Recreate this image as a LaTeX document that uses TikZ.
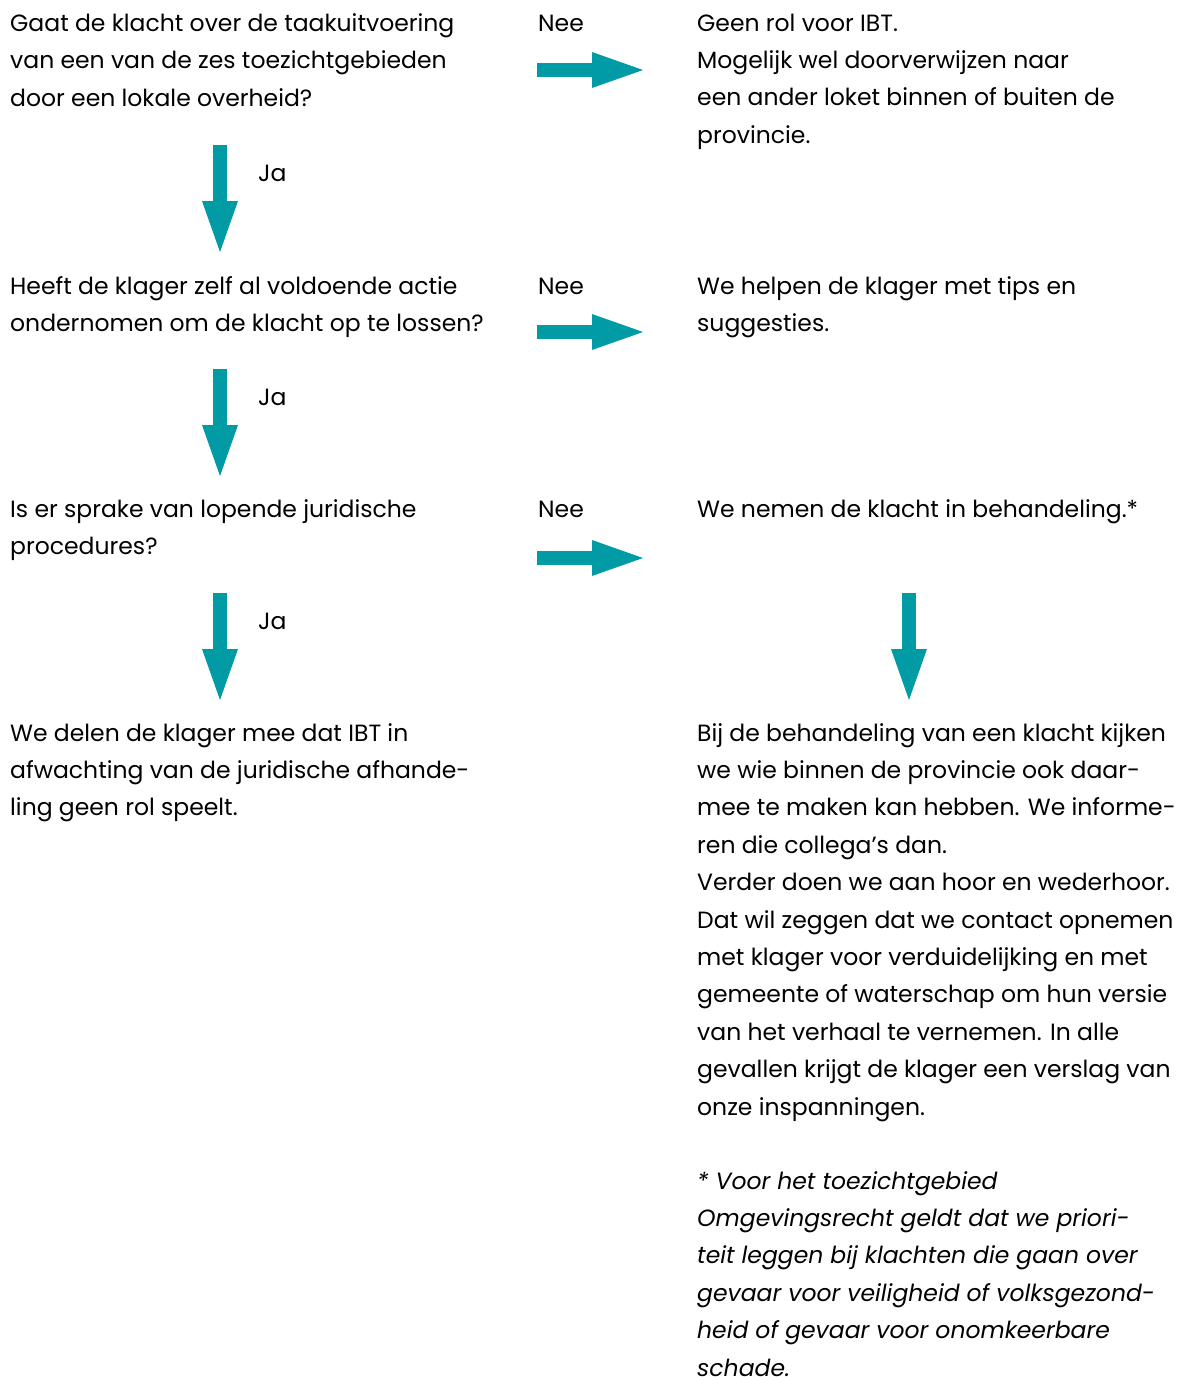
\documentclass[tikz,border=0pt]{standalone}
\usepackage{fontspec}
\setmainfont{Poppins}
\usetikzlibrary{arrows.meta}

\definecolor{ibtblauw}{RGB}{0,155,164}

\begin{document}
\begin{tikzpicture}[x=1pt,y=-1pt,
    tekst/.style={anchor=north west,inner sep=0pt,align=left,
      font=\fontsize{23.5pt}{37.4pt}\selectfont,
      execute at begin node={\rule{0pt}{26pt}}},
    keuze/.style={anchor=base west,inner sep=0pt,
      font=\fontsize{23.5pt}{37.4pt}\selectfont},
    pijl/.style={draw=ibtblauw,line width=14pt,
      -{Triangle[length=51pt,width=36pt,fill=ibtblauw,line width=0pt]}}]
  \useasboundingbox (0,0) rectangle (1179,1377);

  % vragen links
  \node[tekst] (vraag1) at (10,13.5) {Gaat de klacht over de taakuitvoering\\van een van de zes toezichtgebieden\\door een lokale overheid?};
  \node[tekst] (vraag2) at (10,276) {Heeft de klager zelf al voldoende actie\\ondernomen om de klacht op te lossen?};
  \node[tekst] (vraag3) at (10,499) {Is er sprake van lopende juridische\\procedures?};
  \node[tekst] (eind1) at (10,723) {We delen de klager mee dat IBT in\\afwachting van de juridische afhande-\\ling geen rol speelt.};

  % antwoorden rechts
  \node[tekst] (antw1) at (697,13.5) {Geen rol voor IBT.\\Mogelijk wel doorverwijzen naar\\een ander loket binnen of buiten de\\provincie.};
  \node[tekst] (antw2) at (697,276) {We helpen de klager met tips en\\suggesties.};
  \node[tekst] (antw3) at (697,491) {We nemen de klacht in behandeling.*};
  \node[tekst] (uitleg) at (697,723) {Bij de behandeling van een klacht kijken\\we wie binnen de provincie ook daar-\\mee te maken kan hebben. We informe-\\ren die collega’s dan.\\Verder doen we aan hoor en wederhoor.\\Dat wil zeggen dat we contact opnemen\\met klager voor verduidelijking en met\\gemeente of waterschap om hun versie\\van het verhaal te vernemen. In alle\\gevallen krijgt de klager een verslag van\\onze inspanningen.};
  \node[tekst,font=\fontsize{23.5pt}{37.4pt}\selectfont\itshape] (voetnoot) at (697,1171) {* Voor het toezichtgebied\\Omgevingsrecht geldt dat we priori-\\teit leggen bij klachten die gaan over\\gevaar voor veiligheid of volksgezond-\\heid of gevaar voor onomkeerbare\\schade.};

  % pijlen
  \coordinate (nee1a) at (537,70);  \coordinate (nee1b) at (643,70);
  \coordinate (nee2a) at (537,332); \coordinate (nee2b) at (643,332);
  \coordinate (nee3a) at (537,558); \coordinate (nee3b) at (643,558);
  \coordinate (ja1a) at (220,145);  \coordinate (ja1b) at (220,252);
  \coordinate (ja2a) at (220,369);  \coordinate (ja2b) at (220,476);
  \coordinate (ja3a) at (220,593);  \coordinate (ja3b) at (220,700);
  \coordinate (verdera) at (909,593); \coordinate (verderb) at (909,700);

  \foreach \p in {nee1,nee2,nee3,ja1,ja2,ja3,verder}
    \draw[pijl] (\p a) -- (\p b);

  \node[keuze] (nee1) at (538,31) {Nee};
  \node[keuze] (nee2) at (538,294) {Nee};
  \node[keuze] (nee3) at (538,517) {Nee};
  \node[keuze] (ja1) at (258,181) {Ja};
  \node[keuze] (ja2) at (258,405) {Ja};
  \node[keuze] (ja3) at (258,629) {Ja};
\end{tikzpicture}
\end{document}
